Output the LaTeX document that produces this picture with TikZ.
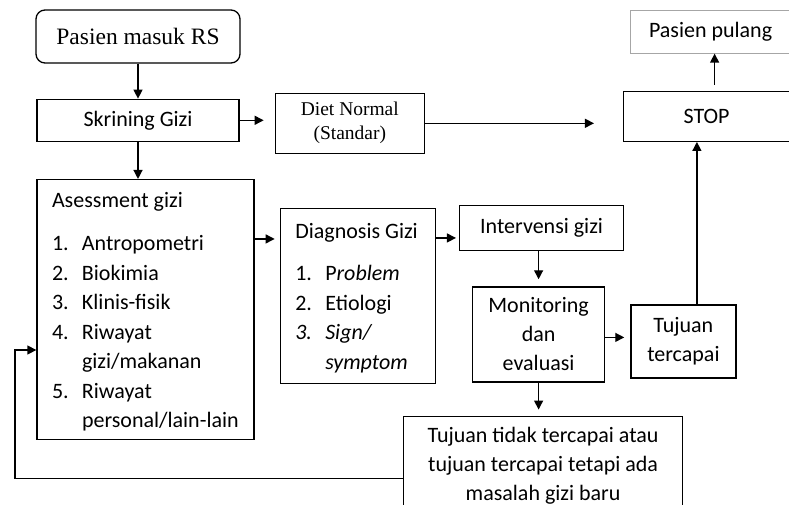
\documentclass[tikz,border=0pt]{standalone}
\usepackage{fontspec}
\setmainfont{Carlito}
\newfontfamily\timesfont{Liberation Serif}
\usepackage{tikz}
\usetikzlibrary{arrows.meta, positioning}
\tikzstyle{arrow} = [
  -{Triangle[length=9pt, width=9pt]}, line width=1.3pt, color=black
]

\begin{document}
\begin{tikzpicture}[
  x=1pt, y=-1pt,
  every node/.style={font=\fontsize{22}{29}\selectfont},
  box/.style={rectangle, draw=black, line width=1.3pt, align=center, inner sep=0pt},
  startbox/.style={box, rounded corners=9pt, font=\timesfont\fontsize{23.5}{28}\selectfont},
  serifbox/.style={box, font=\timesfont\fontsize{19.5}{24}\selectfont},
  endbox/.style={rectangle, draw=black!35, line width=1pt, inner sep=0pt},
  listbox/.style={box, align=flush left, inner xsep=15pt,
                  font=\fontsize{22}{29.5}\selectfont},
]
  \useasboundingbox (0,0) rectangle (789,505);
  \clip (0,0) rectangle (789,505);

  \node[startbox, minimum width=204pt, minimum height=53pt] at (138,36.5)
    (masuk) {Pasien masuk RS};
  \node[box, minimum width=202pt, minimum height=42pt, below=35pt of masuk]
    (skrining) {Skrining Gizi};
  \node[serifbox, minimum width=149pt, minimum height=60pt,
        right=35pt of skrining, yshift=-3pt]
    (diet) {Diet Normal\\(Standar)};
  \node[box, minimum width=166pt, minimum height=50pt,
        right=198pt of diet, yshift=7pt]
    (stop) {STOP};
  \node[endbox, minimum width=160pt, minimum height=43pt,
        above=37pt of stop, xshift=4pt]
    (pulang) {Pasien pulang};
  \node[listbox, text width=187pt, minimum height=260pt,
        below=37pt of skrining.south west, anchor=north west]
    (asesment) {\rule{0pt}{25pt}Asessment gizi\\[13.5pt]
      \begin{tabular}[t]{@{}p{30pt}@{}l@{}}
        1. & Antropometri\\
        2. & Biokimia\\
        3. & Klinis-fisik\\
        4. & Riwayat\\
           & gizi/makanan\\
        5. & Riwayat\\
           & personal/lain-lain
      \end{tabular}};
  \node[listbox, text width=125pt, minimum height=175pt,
        right=25pt of asesment.north east, anchor=north west, yshift=-29pt]
    (diagnosis) {\rule{0pt}{25pt}Diagnosis Gizi\\[12.5pt]
      \begin{tabular}[t]{@{}p{30pt}@{}l@{}}
        1. & P\textit{roblem}\\
        2. & Etiologi\\
        \textit{3.} & \textit{Sign/}\\
           & \textit{symptom}
      \end{tabular}};
  \node[box, minimum width=164pt, minimum height=45pt,
        right=23pt of diagnosis.north east, anchor=north west, yshift=3pt]
    (intervensi) {Intervensi gizi};
  \node[box, minimum width=132pt, minimum height=95pt,
        below=35pt of intervensi, xshift=-3pt]
    (monitoring) {Monitoring\\dan\\evaluasi};
  \node[box, minimum width=105pt, minimum height=73pt,
        right=25pt of monitoring, yshift=-7pt]
    (tercapai) {Tujuan\\tercapai};
  \node[box, minimum width=279pt, minimum height=99pt,
        below=33pt of monitoring, xshift=4.5pt]
    (tidak) {Tujuan tidak tercapai atau\\tujuan tercapai tetapi ada\\masalah gizi baru};
  \coordinate (balik) at (15,350);

  \draw[arrow] (masuk.south) -- (masuk.south |- skrining.north);
  \draw[arrow, shorten >=11pt] (skrining.east) -- (skrining.east -| diet.west);
  \draw[arrow, shorten >=29pt] (diet.east) -- (diet.east -| stop.west);
  \draw[arrow, shorten <=6pt] ([xshift=8pt]stop.north) -- ([xshift=8pt]stop.north |- pulang.south);
  \draw[arrow] ([xshift=13.5pt]tercapai.north) -- ([xshift=13.5pt]tercapai.north |- stop.south);
  \draw[arrow] (skrining.south) -- (skrining.south |- asesment.north);
  \draw[arrow, shorten >=5pt] ([yshift=-60pt]asesment.north east) -- ([yshift=-60pt]asesment.north east -| diagnosis.west);
  \draw[arrow, shorten >=3pt] ([yshift=-30pt]diagnosis.north east) -- ([yshift=-30pt]diagnosis.north east -| intervensi.west);
  \draw[arrow, shorten >=7pt] (monitoring.north |- intervensi.south) -- (monitoring.north);
  \draw[arrow, shorten >=6pt] ([yshift=-3pt]monitoring.east) -- ([yshift=-3pt]monitoring.east -| tercapai.west);
  \draw[arrow, shorten >=6pt] (monitoring.south) -- (monitoring.south |- tidak.north);
  \draw[arrow] ([yshift=-63pt]tidak.north west) -| (balik) -- (balik -| asesment.west);
\end{tikzpicture}
\end{document}
